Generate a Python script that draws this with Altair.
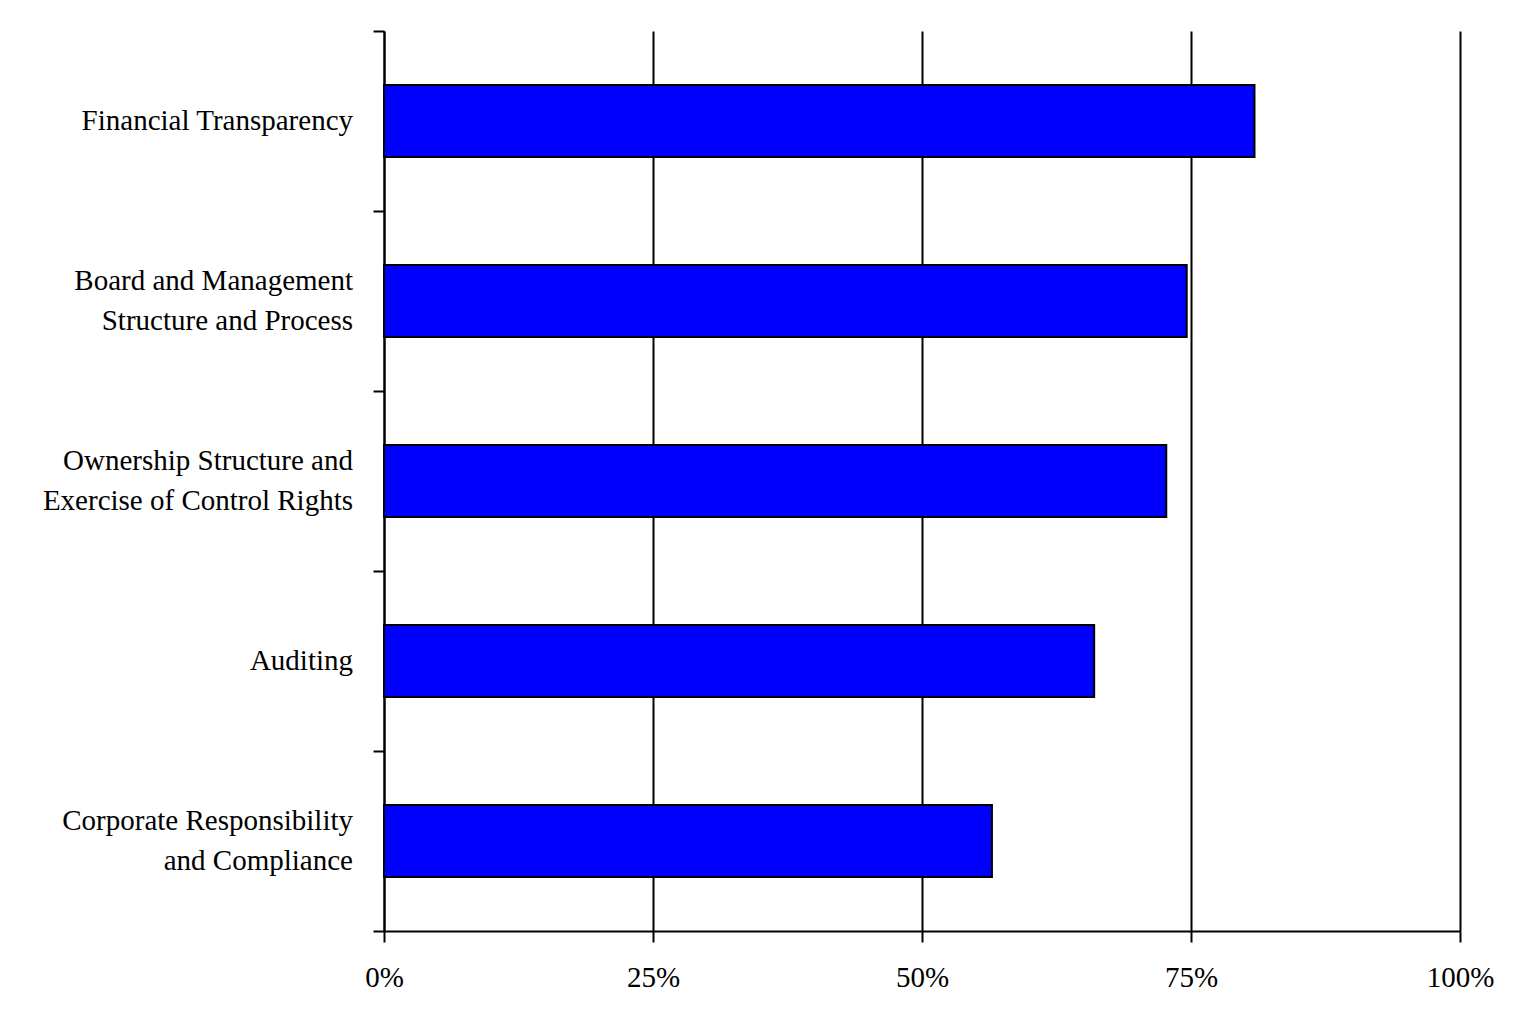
import altair as alt
import pandas as pd

categories = [
    "Financial Transparency",
    "Board and Management|Structure and Process",
    "Ownership Structure and|Exercise of Control Rights",
    "Auditing",
    "Corporate Responsibility|and Compliance",
]
values = [0.809, 0.746, 0.727, 0.660, 0.565]
x_ticks = [0, 0.25, 0.5, 0.75, 1.0]

df = pd.DataFrame({"category": categories, "value": values})

FONT = "Liberation Serif"

y_axis = alt.Axis(
    labels=False,
    tickBand="extent",
    grid=False,
    domainColor="black",
    domainWidth=2,
    tickColor="black",
    tickWidth=2,
    tickSize=11,
    title=None,
)

y_scale = alt.Scale(paddingInner=0, paddingOuter=0)

base = alt.Chart(df)

bars = base.mark_bar(
    color="#0000FF",
    stroke="black",
    strokeWidth=2,
    height=alt.RelativeBandSize(0.4),
).encode(
    x=alt.X(
        "value:Q",
        scale=alt.Scale(domain=[0, 1]),
        axis=alt.Axis(
            format="%",
            values=x_ticks,
            grid=True,
            gridColor="black",
            gridWidth=2,
            gridOpacity=1,
            domainColor="black",
            domainWidth=2,
            tickColor="black",
            tickWidth=2,
            tickSize=11,
            labelFont=FONT,
            labelFontSize=29,
            labelColor="black",
            labelPadding=21,
            labelFlush=False,
            title=None,
        ),
    ),
    y=alt.Y("category:N", sort=categories, scale=y_scale, axis=y_axis),
)

text_props = dict(
    align="right",
    baseline="middle",
    font=FONT,
    fontSize=29,
    color="black",
    lineBreak="|",
    lineHeight=40,
)

single = (
    base.transform_filter("indexof(datum.category, '|') < 0")
    .mark_text(**text_props)
    .encode(
        x=alt.value(-31),
        y=alt.Y("category:N", sort=categories, scale=y_scale, axis=y_axis),
        text="category:N",
    )
)

double = (
    base.transform_filter("indexof(datum.category, '|') >= 0")
    .mark_text(dy=-20, **text_props)
    .encode(
        x=alt.value(-31),
        y=alt.Y("category:N", sort=categories, scale=y_scale, axis=y_axis),
        text="category:N",
    )
)

chart = (
    alt.layer(bars, single, double)
    .properties(
        width=1076,
        height=900,
        autosize=alt.AutoSizeParams(type="none"),
        padding={"left": 376, "top": 23, "right": 50, "bottom": 90},
        background="white",
    )
    .configure_view(stroke=None)
)

chart.save("out.html", embed_options={"renderer": "svg", "actions": False})
